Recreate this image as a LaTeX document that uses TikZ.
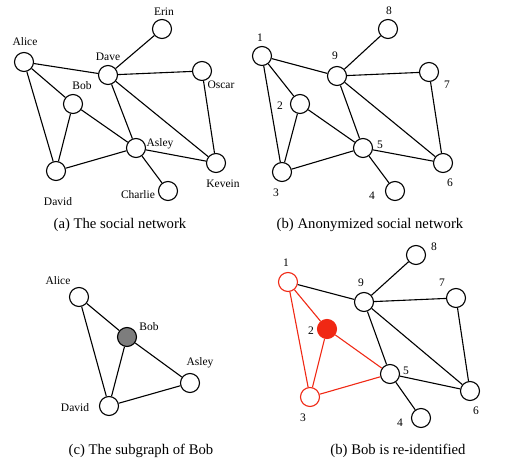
\documentclass[tikz,border=0pt]{standalone}
\usepackage{fontspec}
\setmainfont{Liberation Serif}
\definecolor{hitred}{RGB}{240,40,20}
\definecolor{bobgray}{RGB}{125,125,125}
\begin{document}
\begin{tikzpicture}[x=1pt, y=-1pt, line width=1.1pt,
  v/.style={circle, draw, minimum size=19pt, inner sep=0pt},
  lab/.style={font=\fontsize{11.5}{13}\selectfont, inner sep=0pt},
  captxt/.style={font=\fontsize{14.7}{17}\selectfont, inner sep=0pt}]
\useasboundingbox (0,0) rectangle (506,463);
% (a) the social network
\node[v](Alice) at (24,62){};
\node[v](Erin) at (162,29){};
\node[v](Dave) at (108,75){};
\node[v](Oscar) at (202,71){};
\node[v](Bob) at (73,104){};
\node[v](Asley) at (136,148){};
\node[v](David) at (56,171){};
\node[v](Kevein) at (216,163){};
\node[v](Charlie) at (168,191){};
\node[lab](LAlice) at (25,42){Alice};
\node[lab](LErin) at (164,12){Erin};
\node[lab](LDave) at (108,57){Dave};
\node[lab](LBob) at (82,86){Bob};
\node[lab](LOscar) at (221,85){Oscar};
\node[lab](LAsley) at (160,144){Asley};
\node[lab](LKevein) at (223,184){Kevein};
\node[lab](LCharlie) at (138,195){Charlie};
\node[lab](LDavid) at (58,202){David};
\draw (David) -- (Alice) -- (Dave) -- (Erin);
\draw (Alice) -- (Bob) -- (David) -- (Asley) -- (Kevein) -- (Oscar) -- (Dave) -- (Kevein);
\draw (Bob) -- (Asley) -- (Dave);
\draw (Asley) -- (Charlie);
\node[captxt](CapA) at (120,225){(a) The social network};
% (b) anonymized
\node[v](N1) at (262,56){};
\node[v](N8) at (388,29){};
\node[v](N9) at (337,76){};
\node[v](N7) at (429,72){};
\node[v](N2) at (300,104){};
\node[v](N5) at (363,148){};
\node[v](N3) at (282,172){};
\node[v](N6) at (443,163){};
\node[v](N4) at (395,191){};
\node[lab](L1) at (260,38){1};
\node[lab](L8) at (389,11){8};
\node[lab](L9) at (335,56){9};
\node[lab](L7) at (447,85){7};
\node[lab](L2) at (280,106){2};
\node[lab](L5) at (380,145){5};
\node[lab](L6) at (450,183){6};
\node[lab](L3) at (276,193){3};
\node[lab](L4) at (372,196){4};
\draw (N3) -- (N1) -- (N9) -- (N8);
\draw (N1) -- (N2) -- (N3) -- (N5) -- (N6) -- (N7) -- (N9) -- (N6);
\draw (N2) -- (N5) -- (N9);
\draw (N5) -- (N4);
\node[captxt](CapB) at (370,225){(b) Anonymized social network};
% (c) subgraph of Bob
\node[v](cAlice) at (79,297){};
\node[v, fill=bobgray](cBob) at (127,337){};
\node[v](cAsley) at (190,383){};
\node[v](cDavid) at (109,406){};
\node[lab](LcAlice) at (58,281){Alice};
\node[lab](LcBob) at (149,327){Bob};
\node[lab](LcAsley) at (200,363){Asley};
\node[lab](LcDavid) at (75,408){David};
\draw (cDavid) -- (cAlice) -- (cBob) -- (cDavid) -- (cAsley) -- (cBob);
\node[captxt](CapC) at (141,451){(c) The subgraph of Bob};
% (d) Bob is re-identified
\node[v, draw=hitred](R1) at (288,282){};
\node[v](R8) at (416,255){};
\node[v](R9) at (364,302){};
\node[v](R7) at (456,298){};
\node[v, draw=hitred, fill=hitred](R2) at (327,329){};
\node[v](R5) at (390,374){};
\node[v, draw=hitred](R3) at (310,397){};
\node[v](R6) at (470,391){};
\node[v](R4) at (421,418){};
\node[lab](LR1) at (286,263){1};
\node[lab](LR8) at (434,247){8};
\node[lab](LR9) at (361,283){9};
\node[lab](LR7) at (442,283){7};
\node[lab](LR2) at (311,331){2};
\node[lab](LR5) at (406,371){5};
\node[lab](LR6) at (476,411){6};
\node[lab](LR3) at (303,418){3};
\node[lab](LR4) at (400,423){4};
\draw[hitred] (R3) -- (R1) -- (R2) -- (R3) -- (R5) -- (R2);
\draw (R1) -- (R9) -- (R8);
\draw (R9) -- (R7) -- (R6) -- (R9) -- (R5) -- (R6);
\draw (R5) -- (R4);
\node[captxt](CapD) at (398,451){(b) Bob is re-identified};
\end{tikzpicture}
\end{document}
